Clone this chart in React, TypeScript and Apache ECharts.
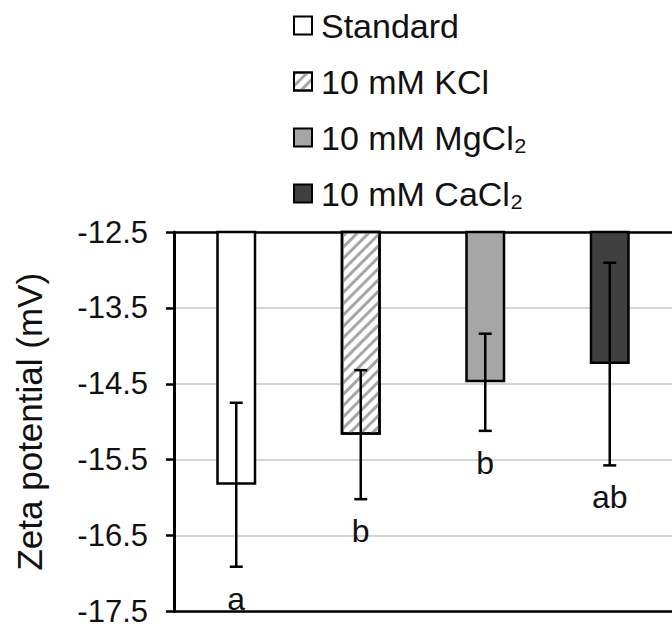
import React, { useEffect, useRef } from "react";
import * as echarts from "echarts";

// Treatments and their measured zeta potentials (mean ± error)
const categories = ["Standard", "10 mM KCl", "10 mM MgCl₂", "10 mM CaCl₂"];
const means = [-15.83, -15.17, -14.48, -14.24];
const errors = [1.08, 0.85, 0.64, 1.335];
const letters = ["a", "b", "b", "ab"];
const yTicks = [-17.5, -16.5, -15.5, -14.5, -13.5, -12.5];

const FONT = "'Liberation Sans', Arial, sans-serif";
const TEXT = "#111";

const fills = ["#ffffff", "#ffffff", "#a6a6a6", "#404040"];
const hatch = {
  symbol: "rect",
  symbolSize: 1,
  color: "#a6a6a6",
  dashArrayX: [1, 0],
  dashArrayY: [3, 5],
  rotation: -Math.PI / 4,
};

export default function App() {
  const ref = useRef<HTMLDivElement>(null);

  useEffect(() => {
    if (!ref.current) return;
    const chart = echarts.init(ref.current, undefined, { renderer: "svg" });

    const barSeries = categories.map((name, i) => ({
      name,
      type: "bar",
      xAxisIndex: 0,
      barWidth: 40,
      barGap: "-100%",
      data: categories.map((_, j) => (j === i ? means[i] : "-")),
      itemStyle: {
        color: fills[i],
        borderColor: "#000",
        borderWidth: 2.5,
        decal: i === 1 ? hatch : undefined,
      },
      z: 2,
    }));

    const errorSeries = {
      type: "custom",
      name: "error",
      xAxisIndex: 0,
      z: 5,
      data: categories.map((_, i) => [i, means[i], errors[i]]),
      encode: { x: 0, y: 1 },
      renderItem: (params: any, api: any) => {
        const idx = params.dataIndex;
        const c = api.value(0);
        const m = api.value(1);
        const e = api.value(2);
        const top = api.coord([c, m + e]);
        const bot = api.coord([c, m - e]);
        const cap = 6.5;
        const ls = { stroke: "#000", lineWidth: 2.5 };
        return {
          type: "group",
          children: [
            { type: "line", shape: { x1: top[0], y1: top[1], x2: bot[0], y2: bot[1] }, style: ls },
            { type: "line", shape: { x1: top[0] - cap, y1: top[1], x2: top[0] + cap, y2: top[1] }, style: ls },
            { type: "line", shape: { x1: bot[0] - cap, y1: bot[1], x2: bot[0] + cap, y2: bot[1] }, style: ls },
            {
              type: "text",
              x: bot[0],
              y: bot[1] + 32,
              style: {
                text: letters[idx],
                fill: TEXT,
                fontSize: 32,
                fontFamily: FONT,
                align: "center",
                verticalAlign: "middle",
              },
            },
          ],
        };
      },
    };

    chart.setOption({
      animation: false,
      backgroundColor: "#fff",
      textStyle: { fontFamily: FONT },
      legend: {
        orient: "vertical",
        left: 293,
        top: 8,
        padding: 0,
        itemWidth: 18,
        itemHeight: 18,
        itemGap: 21,
        icon: "rect",
        data: categories,
        itemStyle: { borderColor: "#000", borderWidth: 2 },
        textStyle: {
          fontSize: 34,
          lineHeight: 35,
          color: TEXT,
          fontFamily: FONT,
          padding: [0, 0, 0, 4],
        },
      },
      grid: { left: 174, top: 232, width: 509, height: 385 },
      xAxis: [
        {
          type: "category",
          data: categories,
          position: "top",
          axisLine: { onZero: false, lineStyle: { color: "#000", width: 2.5 } },
          axisTick: { show: false },
          axisLabel: { show: false },
        },
        {
          type: "category",
          data: categories,
          position: "bottom",
          axisLine: { onZero: false, lineStyle: { color: "#000", width: 2.5 } },
          axisTick: { show: false },
          axisLabel: { show: false },
        },
      ],
      yAxis: {
        type: "value",
        min: -17.5,
        max: -12.5,
        name: "Zeta potential (mV)",
        nameLocation: "middle",
        nameRotate: 90,
        nameGap: 127,
        nameTextStyle: { fontSize: 35, color: TEXT, fontFamily: FONT },
        axisLine: { show: true, lineStyle: { color: "#000", width: 3 } },
        axisTick: {
          show: true,
          inside: false,
          length: 8,
          customValues: yTicks,
          lineStyle: { color: "#000", width: 2.5 },
        },
        axisLabel: {
          customValues: yTicks,
          margin: 26,
          fontSize: 31,
          color: TEXT,
          fontFamily: FONT,
          formatter: (v: number) => v.toFixed(1),
        },
        splitLine: { show: true, lineStyle: { color: "#d4d4d4", width: 2 } },
      },
      series: [...barSeries, errorSeries],
    });

    return () => chart.dispose();
  }, []);

  return (
    <div
      ref={ref}
      style={{ position: "absolute", left: 0, top: 0, width: 672, height: 627, background: "#fff" }}
    />
  );
}
